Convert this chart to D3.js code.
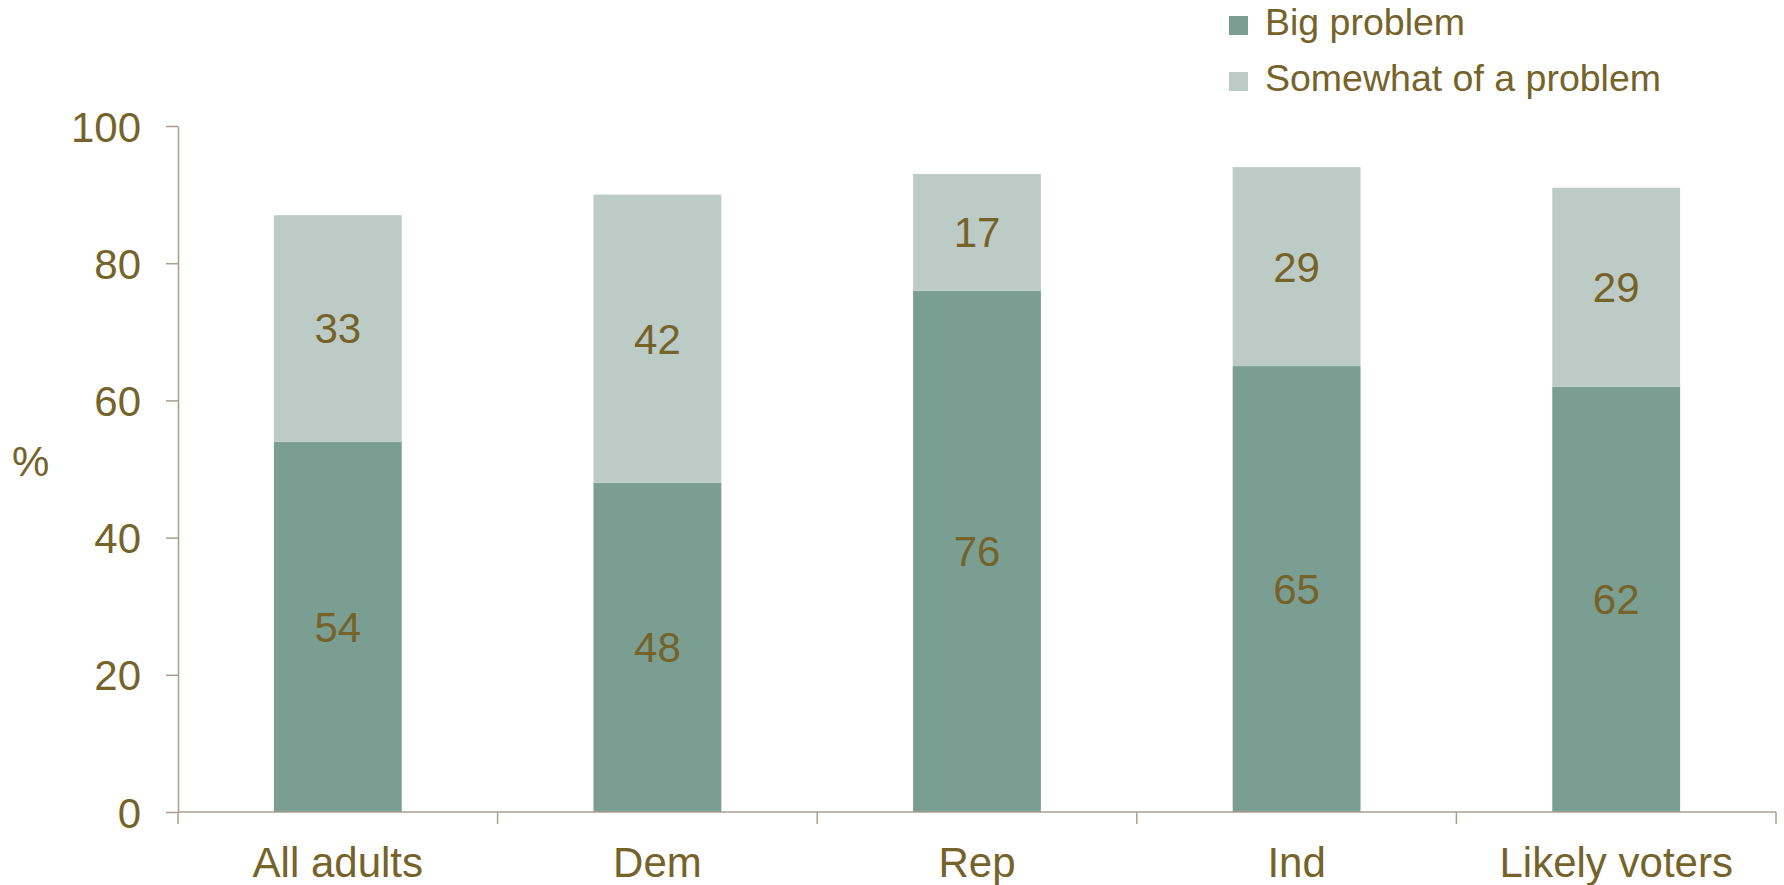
<!DOCTYPE html>
<html>
<head>
<meta charset="utf-8">
<script src="https://cdn.jsdelivr.net/npm/d3@7"></script>
<style>
  html, body { margin: 0; padding: 0; background: #ffffff; }
  svg { display: block; }
  text { font-family: "Liberation Sans", Arial, sans-serif; }
</style>
</head>
<body>
<svg id="chart" width="1784" height="885"></svg>
<script>
const categories = ["All adults", "Dem", "Rep", "Ind", "Likely voters"];
const bigProblem = [54, 48, 76, 65, 62];
const somewhatProblem = [33, 42, 17, 29, 29];
const seriesNames = ["Big problem", "Somewhat of a problem"];
const yTicks = [0, 20, 40, 60, 80, 100];
const yLabel = "%";

const colors = ["#7a9e92", "#bccbc5"];
const textColor = "#76632a";
const axisColor = "#a99f91";

const svg = d3.select("#chart");

const x = d3.scaleBand()
  .domain(categories)
  .range([178, 1776])
  .paddingInner(0.6)
  .paddingOuter(0.3);

const y = d3.scaleLinear().domain([0, 100]).range([812, 126]);

const rows = categories.map((c, i) => ({ cat: c, big: bigProblem[i], some: somewhatProblem[i] }));
const stack = d3.stack().keys(["big", "some"])(rows);

// Bars
const layers = svg.append("g").selectAll("g")
  .data(stack)
  .join("g")
  .attr("fill", (d, i) => colors[i]);

layers.selectAll("rect")
  .data(d => d)
  .join("rect")
  .attr("x", d => x(d.data.cat))
  .attr("width", x.bandwidth())
  .attr("y", d => y(d[1]))
  .attr("height", d => y(d[0]) - y(d[1]));

// Data labels
layers.selectAll("text")
  .data(d => d)
  .join("text")
  .attr("x", d => x(d.data.cat) + x.bandwidth() / 2)
  .attr("y", d => (y(d[0]) + y(d[1])) / 2)
  .attr("dy", "0.36em")
  .attr("text-anchor", "middle")
  .attr("fill", textColor)
  .attr("font-size", 42)
  .text(d => d[1] - d[0]);

// Y axis
const yAxis = svg.append("g")
  .attr("transform", "translate(178,0)")
  .call(d3.axisLeft(y).tickValues(yTicks).tickSize(12).tickSizeOuter(0).tickPadding(25));
yAxis.select(".domain").attr("stroke", axisColor).attr("stroke-width", 1.5);
yAxis.selectAll(".tick line").attr("stroke", axisColor).attr("stroke-width", 1.5);
yAxis.selectAll(".tick text")
  .attr("fill", textColor)
  .attr("font-size", 42)
  .attr("font-family", "Liberation Sans, Arial, sans-serif")
  .attr("dy", "0.36em");

// X axis (ticks at category boundaries)
const xAxisG = svg.append("g");
const x0 = x.range()[0];
const boundaries = d3.range(categories.length + 1).map(i => x0 + i * x.step());
xAxisG.append("line")
  .attr("x1", x.range()[0]).attr("x2", x.range()[1])
  .attr("y1", y(0)).attr("y2", y(0))
  .attr("stroke", axisColor).attr("stroke-width", 1.5);
xAxisG.selectAll("line.tk")
  .data(boundaries)
  .join("line")
  .attr("class", "tk")
  .attr("x1", d => d).attr("x2", d => d)
  .attr("y1", y(0)).attr("y2", y(0) + 12)
  .attr("stroke", axisColor).attr("stroke-width", 1.5);
xAxisG.selectAll("text")
  .data(categories)
  .join("text")
  .attr("x", d => x(d) + x.bandwidth() / 2)
  .attr("y", 877)
  .attr("text-anchor", "middle")
  .attr("fill", textColor)
  .attr("font-size", 42)
  .text(d => d);

// Y label
svg.append("text")
  .attr("x", 12)
  .attr("y", 461)
  .attr("dy", "0.36em")
  .attr("fill", textColor)
  .attr("font-size", 42)
  .text(yLabel);

// Legend
const legend = svg.append("g").attr("transform", "translate(1229,16)");
const li = legend.selectAll("g")
  .data(seriesNames)
  .join("g")
  .attr("transform", (d, i) => `translate(0,${i * 56})`);
li.append("rect")
  .attr("width", 19).attr("height", 19)
  .attr("fill", (d, i) => colors[i]);
li.append("text")
  .attr("x", 36)
  .attr("y", 19)
  .attr("fill", textColor)
  .attr("font-size", 37.5)
  .text(d => d);
</script>
</body>
</html>
